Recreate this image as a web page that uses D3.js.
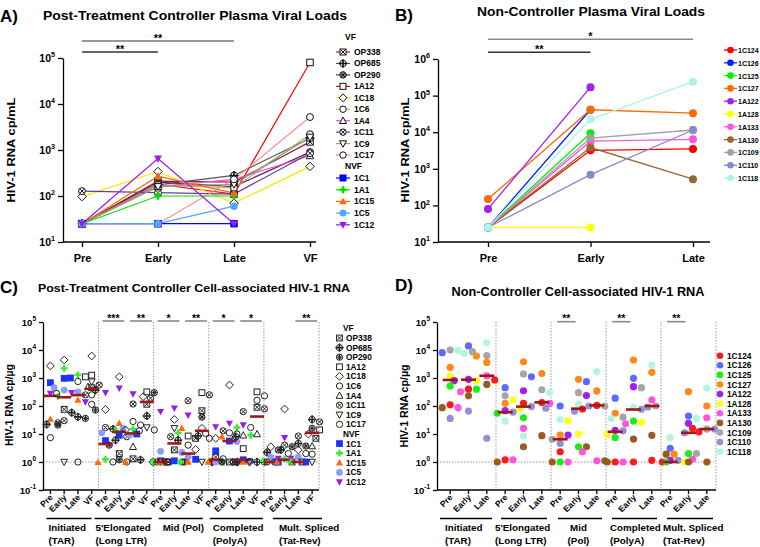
<!DOCTYPE html>
<html><head><meta charset="utf-8">
<script src="https://cdn.jsdelivr.net/npm/d3@7"></script>
<style>body{margin:0;background:#fff}svg{display:block}text{font-family:"Liberation Sans",Arial,sans-serif;font-weight:bold;fill:#000}</style>
</head><body><svg id="c" width="760" height="547"></svg>
<script>
// ================= DATA =================
const n = null;
const timepoints = ["Pre","Early","Late","VF"];
const timepointsNC = ["Pre","Early","Late"];
const vfIds  = ["OP338","OP685","OP290","1A12","1C18","1C6","1A4","1C11","1C9","1C17"];
const nvfIds = ["1C1","1A1","1C15","1C5","1C12"];
const ptcIds = vfIds.concat(nvfIds);
// Panel A: plasma viral load (cp/mL) at Pre, Early, Late, VF
const plasmaA = [
  [25,210,200,1500],[25,175,280,1800],[25,200,160,900],[25,180,110,80000],[97,340,70,440],
  [25,175,150,2200],[25,160,230,750],[128,118,110,850],[25,160,180,1900],[25,25,230,5200],
  [25,25,25,n],[25,100,100,n],[25,270,115,n],[25,25,60,n],[25,650,25,n]
];
const sigA = [["Pre","Early","**"],["Pre","Late","**"]];
// Panel B
const ncIds = ["1C124","1C126","1C125","1C127","1A122","1A128","1A133","1A130","1C109","1C110","1C118"];
const plasmaB = [
  [25,3200,3500],[25,41000,n],[25,9400,n],[150,41000,33000],[80,170000,n],[25,25,n],
  [25,5700,6400],[25,3800,520],[25,6900,11500],[25,690,11500],[25,22500,240000]
];
const sigB = [["Pre","Early","**"],["Pre","Late","*"]];
// Panel C: cell-associated RNA (cp/ug); groups x timepoints
const regionKeys = ["TAR","LTR","Mid","Comp","MS"];
const regionLabelsC = [["Initiated","(TAR)"],["5'Elongated","(Long LTR)"],["Mid (Pol)"],["Completed","(PolyA)"],["Mult. Spliced","(Tat-Rev)"]];
const regionLabelsD = [["Initiated","(TAR)"],["5'Elongated","(Long LTR)"],["Mid","(Pol)"],["Completed","(PolyA)"],["Mult. Spliced","(Tat-Rev)"]];
const caPTC = [
  [n,76,n,450,  n,2,1.3,115,  1,2.7,7,68,  1.5,1,1,90,  n,1,1,7],
  [22,58,41,370, 15,6,1.2,44, 1,6,n,8.5, 1,1,8,1, 2.2,2.7,4.6,33],
  [21,n,36,72, 4,1.2,n,300, 1,n,1,40, 1,1,n,1, 1,3.5,3.7,16],
  [n,n,1100,1260, n,n,n,320, n,n,8.5,300, n,n,3,320, n,n,n,14],
  [2700,4400,n,6100, 75,1100,14,215, 1,33,2.8,16, 7,560,n,1, 3.5,78,2.7,10],
  [7.4,280,750,250, 1,1,28,14, 1,1,4,10.5, 1.3,11,17,230, 1,2,2,1.9],
  [n,n,n,490, n,n,3.5,n, n,n,n,n, n,n,9,10, n,n,n,3.7],
  [25,30,250,560, 17,8,118,190, 1,8,155,250, 13,1,63,80, 2.7,4,8.5,27],
  [n,1,n,740, n,n,n,17, n,16,n,1, n,n,n,1, n,n,n,1],
  [n,n,1,115, n,n,21,13, n,1,n,7, n,10,n,160, n,n,n,n],
  [680,970,1000,n, 5.8,9,10,n, 1.1,1.1,1.25,n, 2.5,5.6,1.2,n, 1,1,1,n],
  [220,2200,1300,n, 1.25,13,15,n, 1,11,1,n, 1,17,9,n, 1.1,1.3,1,n],
  [34,n,165,n, 0.98,24,1,n, 1,16,1,n, 1,8,1,n, n,1,n,n],
  [450,370,320,n, 11,16,9,n, 2.4,2.2,1.5,n, 1,5.4,1.1,n, 1.5,n,1.5,n],
  [280,300,140,n, 300,430,270,n, 63,83,47,n, 18,24,21,n, 1.35,7.4,1.35,n]
];
const caPTCMedians = [230,205,245,410, 4.4,12,10.5,140, 1,4.6,2,13, 1.2,5.6,1.2,42, 1,1.2,1,11];
const sigC = [["LTR","Pre","Early","***"],["LTR","Late","VF","**"],["Mid","Pre","Early","*"],["Mid","Late","VF","**"],
              ["Comp","Pre","Early","*"],["Comp","Late","VF","*"],["MS","Late","VF","**"]];
// Panel D
const caNC = [
  [110,400,850, 1.2,125,133, 2.3,78,105, 1,1,1.15, 1,16,12],
  [8000,14000,n, 450,1100,n, 100,740,n, 190,970,n, 3.1,44,n],
  [520,400,n, 55,38,n, 1,3.5,n, 7.4,29,n, 1,2,n],
  [2400,6100,3600, 125,3800,1450, 9.2,900,345, 55,4400,1600, 1.9,325,100],
  [800,900,n, 68,350,n, 9.2,235,n, 13.5,490,n, 1.15,24,n],
  [1200,800,n, 165,78,n, 30,10,n, 9.7,26,n, n,1,n],
  [87,320,1200, 1.2,16,125, 1,2.3,1.1, 1,23,165, n,1.25,38],
  [87,230,590, 1,3.5,8.7, 1,3.5,1.1, 1,6.6,9, 1.9,1,1],
  [10000,8700,6300, 230,1400,380, 6.5,300,100, 40,450,100, n,2,15],
  [36,66,7, 60,95,83, 4.6,66,100, 13,76,92, 1.15,11,15],
  [9500,7600,18000, 29,8.5,310, 33,118,1700, 36,90,2900, 7.4,36,430]
];
const caNCMedians = [850,870,1200, 60,95,135, 6.5,80,105, 12,75,100, 1,11,15];
const sigD = [["Mid","Pre","Early","**"],["Comp","Pre","Early","**"],["MS","Pre","Early","**"]];

// ================= STYLE =================
const lineColA = {"OP338":"#8e2040","OP685":"#555","OP290":"#5a2a5a","1A12":"#ff0000","1C18":"#f5e800","1C6":"#c8a878",
  "1A4":"#ff44dd","1C11":"#6a3d9a","1C9":"#7baa6b","1C17":"#ff8c8c","1C1":"#0000ff","1A1":"#00e000","1C15":"#ff6a00","1C5":"#55a5ff","1C12":"#9a1af0"};
const fillC = {"1C1":"#1a33ff","1A1":"#33ee33","1C15":"#ff6a00","1C5":"#8c9cff","1C12":"#9a1af0"};
const shape = {"OP338":"sqX","OP685":"circPlus","OP290":"circStar","1A12":"square","1C18":"diamond","1C6":"circle","1A4":"triUp",
  "1C11":"circX","1C9":"triDown","1C17":"circle","1C1":"squareF","1A1":"crossF","1C15":"triUpF","1C5":"circleF","1C12":"triDownF"};
const colB = {"1C124":"#ff0000","1C126":"#0022ff","1C125":"#00ee00","1C127":"#ff6a00","1A122":"#a020f0","1A128":"#ffff00",
  "1A133":"#ff55dd","1A130":"#996633","1C109":"#a0a0a0","1C110":"#8888cc","1C118":"#aaf5e6"};
const colD = {"1C124":"#ff1a1a","1C126":"#5a6cff","1C125":"#1aee1a","1C127":"#ff8a1a","1A122":"#a020f0","1A128":"#ffff1a",
  "1A133":"#ff55dd","1A130":"#9c5a1e","1C109":"#a6a6a6","1C110":"#9090d8","1C118":"#b3f5e2"};
const medCol = "#a01818";

const svg = d3.select("#c");

function marker(g, type, x, y, s, stroke, fill) {
  const h = s/2;
  const G = g.append("g").attr("transform", `translate(${x},${y})`);
  const sw = 1;
  const hollowFill = fill || "none";
  if (type.endsWith("F")) {
    const col = stroke;
    if (type==="squareF") G.append("rect").attr("x",-h).attr("y",-h).attr("width",s).attr("height",s).attr("fill",col);
    if (type==="circleF") G.append("circle").attr("r",h).attr("fill",col);
    if (type==="triUpF") G.append("path").attr("d",`M0,${-h*1.1}L${h*1.05},${h*0.8}L${-h*1.05},${h*0.8}Z`).attr("fill",col);
    if (type==="triDownF") G.append("path").attr("d",`M0,${h*1.1}L${h*1.05},${-h*0.8}L${-h*1.05},${-h*0.8}Z`).attr("fill",col);
    if (type==="crossF") { const a=h*0.35;
      G.append("path").attr("d",`M${-a},${-h}L${a},${-h}L${a},${-a}L${h},${-a}L${h},${a}L${a},${a}L${a},${h}L${-a},${h}L${-a},${a}L${-h},${a}L${-h},${-a}L${-a},${-a}Z`).attr("fill",col); }
    return;
  }
  const st = (sel)=>sel.attr("stroke",stroke).attr("stroke-width",sw).attr("fill",hollowFill);
  const r = h*0.92;
  if (type==="square"||type==="sqX") st(G.append("rect").attr("x",-h+0.5).attr("y",-h+0.5).attr("width",s-1).attr("height",s-1));
  if (type==="sqX") G.append("path").attr("d",`M${-h+1},${-h+1}L${h-1},${h-1}M${h-1},${-h+1}L${-h+1},${h-1}`).attr("stroke",stroke).attr("stroke-width",sw);
  if (type==="diamond") st(G.append("path").attr("d",`M0,${-h-0.5}L${h+0.5},0L0,${h+0.5}L${-h-0.5},0Z`));
  if (type==="circle"||type==="circPlus"||type==="circX"||type==="circStar") st(G.append("circle").attr("r",r));
  if (type==="circPlus") G.append("path").attr("d",`M${-r-1},0L${r+1},0M0,${-r-1}L0,${r+1}`).attr("stroke",stroke).attr("stroke-width",1.6);
  if (type==="circX") { const k=r*0.7; G.append("path").attr("d",`M${-k},${-k}L${k},${k}M${k},${-k}L${-k},${k}`).attr("stroke",stroke).attr("stroke-width",sw); }
  if (type==="circStar") { const k=r*0.7; G.append("path").attr("d",`M${-k},${-k}L${k},${k}M${k},${-k}L${-k},${k}M${-r},0L${r},0M0,${-r}L0,${r}`).attr("stroke",stroke).attr("stroke-width",sw); }
  if (type==="triUp") st(G.append("path").attr("d",`M0,${-h*1.05}L${h},${h*0.8}L${-h},${h*0.8}Z`));
  if (type==="triDown") st(G.append("path").attr("d",`M0,${h*1.05}L${h},${-h*0.8}L${-h},${-h*0.8}Z`));
}

function supLabels(axisG, fs) {
  axisG.selectAll(".tick text").each(function(d){
    const e = Math.round(Math.log10(d));
    const t = d3.select(this); t.text(null).attr("font-size",fs).attr("font-weight","bold");
    t.append("tspan").text("10");
    t.append("tspan").attr("dy",-fs*0.45).attr("font-size",fs*0.68).text(e);
  });
}
function styleAxis(g, w) {
  g.attr("font-family",null);
  g.selectAll("path,line").attr("stroke","#000").attr("stroke-width",w);
}
function sigBar(g, x1, x2, y, label, fs, col) {
  g.append("line").attr("x1",x1).attr("x2",x2).attr("y1",y).attr("y2",y).attr("stroke",col).attr("stroke-width",1.6);
  g.append("text").attr("x",(x1+x2)/2).attr("y",y+0.5).attr("text-anchor","middle").attr("font-size",fs).text(label);
}
function title(x, y, txt, fs, len) {
  svg.append("text").attr("x",x).attr("y",y).attr("text-anchor","middle").attr("font-size",fs)
    .attr("textLength",len).attr("lengthAdjust","spacingAndGlyphs").text(txt);
}
function yTitle(x, y, txt, fs, len) {
  svg.append("text").attr("transform",`translate(${x},${y}) rotate(-90)`).attr("text-anchor","middle").attr("font-size",fs)
    .attr("textLength",len).attr("lengthAdjust","spacingAndGlyphs").text(txt);
}

// ================= PANEL A =================
(function(){
  const g = svg.append("g");
  const x = d3.scalePoint().domain(timepoints).range([82,310]);
  const y = d3.scaleLog().domain([10,1e5]).range([242,58]);
  svg.append("text").attr("x",0).attr("y",22).attr("font-size",17).text("A)");
  title(195,20,"Post-Treatment Controller Plasma Viral Loads",13,304);
  yTitle(15,150,"HIV-1 RNA cp/mL",11.5,105);
  const ya = g.append("g").attr("transform","translate(63,0)")
    .call(d3.axisLeft(y).tickValues([10,100,1e3,1e4,1e5]).tickSize(5).tickSizeOuter(0));
  styleAxis(ya,1.3); supLabels(ya,10.5);
  const xa = g.append("g").attr("transform","translate(0,242)").call(d3.axisBottom(x).tickSize(5).tickSizeOuter(0));
  styleAxis(xa,1.3); xa.select(".domain").remove();
  xa.selectAll(".tick text").attr("font-size",11).attr("font-weight","bold").attr("dy","1.05em");
  g.append("line").attr("x1",63).attr("x2",316).attr("y1",242).attr("y2",242).attr("stroke","#000").attr("stroke-width",1.3);
  sigA.forEach((s,i)=> sigBar(g, x(s[0]), x(s[1]), i===0?52:41, s[2], 11, i===0?"#333":"#777"));
  const line = d3.line().defined(d=>d[1]!=null).x(d=>x(d[0])).y(d=>y(d[1]));
  ptcIds.forEach((id,i)=>{
    const pts = timepoints.map((t,j)=>[t,plasmaA[i][j]]);
    g.append("path").attr("d",line(pts)).attr("fill","none").attr("stroke",lineColA[id]).attr("stroke-width",1.2);
  });
  ptcIds.forEach((id,i)=>{
    timepoints.forEach((t,j)=>{
      const v = plasmaA[i][j]; if (v==null) return;
      const filled = shape[id].endsWith("F");
      marker(g, shape[id], x(t), y(v), 7.5, filled?lineColA[id]:"#111", "#fff");
    });
  });
  const lg = svg.append("g");
  lg.append("text").attr("x",345).attr("y",40).attr("font-size",8.5).text("VF");
  lg.append("text").attr("x",345).attr("y",169).attr("font-size",8.5).text("NVF");
  ptcIds.forEach((id,i)=>{
    const yy = i<10 ? 52+i*11.45 : 178+(i-10)*11.7;
    lg.append("line").attr("x1",336).attr("x2",350).attr("y1",yy).attr("y2",yy).attr("stroke",lineColA[id]).attr("stroke-width",1.2);
    const filled = shape[id].endsWith("F");
    marker(lg, shape[id], 343, yy, 7, filled?lineColA[id]:"#111", "#fff");
    lg.append("text").attr("x",354).attr("y",yy+3).attr("font-size",8.5).text(id);
  });
})();

// ================= PANEL B =================
(function(){
  const g = svg.append("g");
  const x = d3.scalePoint().domain(timepointsNC).range([488,693]);
  const y = d3.scaleLog().domain([10,1e6]).range([242,59]);
  svg.append("text").attr("x",395).attr("y",21).attr("font-size",17).text("B)");
  title(591,16,"Non-Controller Plasma Viral Loads",13,228);
  yTitle(409,150,"HIV-1 RNA cp/mL",11.5,105);
  const ya = g.append("g").attr("transform","translate(438,0)")
    .call(d3.axisLeft(y).tickValues([10,100,1e3,1e4,1e5,1e6]).tickSize(5).tickSizeOuter(0));
  styleAxis(ya,1.3); supLabels(ya,10.5);
  const xa = g.append("g").attr("transform","translate(0,242)").call(d3.axisBottom(x).tickSize(5).tickSizeOuter(0));
  styleAxis(xa,1.3); xa.select(".domain").remove();
  xa.selectAll(".tick text").attr("font-size",11).attr("font-weight","bold").attr("dy","1.05em");
  g.append("line").attr("x1",438).attr("x2",710).attr("y1",242).attr("y2",242).attr("stroke","#000").attr("stroke-width",1.3);
  sigB.forEach((s,i)=> sigBar(g, x(s[0]), x(s[1]), i===0?52.3:39.3, s[2], 11, i===0?"#333":"#888"));
  const line = d3.line().defined(d=>d[1]!=null).x(d=>x(d[0])).y(d=>y(d[1]));
  ncIds.forEach((id,i)=>{
    const pts = timepointsNC.map((t,j)=>[t,plasmaB[i][j]]);
    g.append("path").attr("d",line(pts)).attr("fill","none").attr("stroke",colB[id]).attr("stroke-width",1.3);
  });
  ncIds.forEach((id,i)=>{
    timepointsNC.forEach((t,j)=>{
      const v = plasmaB[i][j]; if (v==null) return;
      g.append("circle").attr("cx",x(t)).attr("cy",y(v)).attr("r",4).attr("fill",colB[id]);
    });
  });
  const lg = svg.append("g");
  ncIds.forEach((id,i)=>{
    const yy = 50+i*12.8;
    lg.append("line").attr("x1",724).attr("x2",737).attr("y1",yy).attr("y2",yy).attr("stroke",colB[id]).attr("stroke-width",1.3);
    lg.append("circle").attr("cx",730.5).attr("cy",yy).attr("r",3.3).attr("fill",colB[id]);
    lg.append("text").attr("x",738).attr("y",yy+3).attr("font-size",7).text(id);
  });
})();

// ============ helpers for C / D =============
function dodge(points, r, maxK) {
  const placed = [];
  points.sort((a,b)=>a.y-b.y);
  points.forEach((p,idx)=>{
    let done=false;
    for (let k=0;k<=maxK;k++){
      const off = k===0?0:(k%2?1:-1)*Math.ceil(k/2)*r*1.1;
      const xx = p.x0+off;
      if (!placed.some(q=>(q.x-xx)**2+(q.y-p.y)**2 < (r*1.7)**2)) { p.x=xx; done=true; break; }
    }
    if (!done) { const k=(idx%(maxK+1)); p.x = p.x0 + (k===0?0:(k%2?1:-1)*Math.ceil(k/2)*r*1.1); }
    placed.push(p);
  });
}
function cellPanel(opts) {
  const {x0, x1, axisX, y, cats, tps, regionLabels, labelOffsets, underlines} = opts;
  const g = svg.append("g");
  const x = d3.scaleBand().domain(cats).range([x0,x1]);
  const bw = x.bandwidth();
  const cx = c => x(c)+bw/2;
  regionKeys.forEach((r,i)=>{
    const xd = x(r+"|"+tps[tps.length-1])+bw;
    g.append("line").attr("x1",xd).attr("x2",xd).attr("y1",322).attr("y2",490).attr("stroke","#9a9a9a").attr("stroke-width",1).attr("stroke-dasharray","1.5,1.5");
  });
  g.append("line").attr("x1",axisX).attr("x2",x1).attr("y1",y(1)).attr("y2",y(1)).attr("stroke","#9a9a9a").attr("stroke-width",1).attr("stroke-dasharray","1.5,1.5");
  const ya = g.append("g").attr("transform",`translate(${axisX},0)`)
    .call(d3.axisLeft(y).tickValues([0.1,1,10,100,1e3,1e4,1e5]).tickSize(4).tickSizeOuter(0));
  styleAxis(ya,1.3); supLabels(ya,9.5);
  const xa = g.append("g").attr("transform","translate(0,490)").call(d3.axisBottom(x).tickSize(4).tickSizeOuter(0));
  styleAxis(xa,1.3); xa.select(".domain").remove();
  xa.selectAll(".tick").attr("transform", d=>`translate(${cx(d)},0)`);
  xa.selectAll(".tick text").text(d=>d.split("|")[1]).attr("font-size",8.5).attr("font-weight","bold")
    .attr("text-anchor","end").attr("dy",0).attr("y",0).attr("transform","translate(3,8) rotate(-45)");
  g.append("line").attr("x1",axisX).attr("x2",x1).attr("y1",490).attr("y2",490).attr("stroke","#000").attr("stroke-width",1.3);
  regionKeys.forEach((r,i)=>{
    const gs = x(r+"|"+tps[0]), ge = x(r+"|"+tps[tps.length-1])+bw;
    g.append("line").attr("x1",gs+underlines[i][0]).attr("x2",ge+underlines[i][1]).attr("y1",518.5).attr("y2",518.5).attr("stroke","#000").attr("stroke-width",1.3);
    const lo = labelOffsets[i];
    regionLabels[i].forEach((s,k)=>{
      const t = g.append("text").attr("y",531+k*13).attr("font-size",9.8).text(s);
      if (lo==null) t.attr("x",(gs+ge)/2).attr("text-anchor","middle"); else t.attr("x",gs+lo);
    });
  });
  return {g,x,cx,bw};
}

// ================= PANEL C =================
(function(){
  const catsC = regionKeys.flatMap(r=>timepoints.map(t=>r+"|"+t));
  const y = d3.scaleLog().domain([0.1,1e5]).range([490,322]);
  svg.append("text").attr("x",0).attr("y",293).attr("font-size",17).text("C)");
  title(194,292,"Post-Treatment Controller Cell-associated HIV-1 RNA",11.5,312);
  yTitle(13,405,"HIV-1 RNA cp/\u00b5g",10.5,82);
  const {g,x,cx,bw} = cellPanel({x0:43.5,x1:319,axisX:43,y,cats:catsC,tps:timepoints,regionLabels:regionLabelsC,
    labelOffsets:[5,-3,9,4,15],underlines:[[3,-7],[-4,-2],[5,-6],[1,-1],[9,3]]});
  sigC.forEach(s=> sigBar(g, cx(s[0]+"|"+s[1])-3, cx(s[0]+"|"+s[2])+5, 321, s[3], 10.5, "#888"));
  catsC.forEach((c,j)=>{
    const pts = [];
    ptcIds.forEach((id,i)=>{ const v = caPTC[i][j]; if (v!=null) pts.push({id, y:y(v), x0:cx(c)}); });
    dodge(pts, 3.4, 4);
    pts.forEach(p=>{
      const filled = shape[p.id].endsWith("F");
      marker(g, shape[p.id], p.x, p.y, 6.8, filled?fillC[p.id]:"#222", "none");
    });
    g.append("line").attr("x1",cx(c)-7).attr("x2",cx(c)+7).attr("y1",y(caPTCMedians[j])).attr("y2",y(caPTCMedians[j]))
      .attr("stroke",medCol).attr("stroke-width",2.6);
  });
  const lg = svg.append("g");
  lg.append("text").attr("x",343).attr("y",331).attr("font-size",8.3).text("VF");
  lg.append("text").attr("x",343).attr("y",338+10*9.6+3).attr("font-size",8.3).text("NVF");
  ptcIds.forEach((id,i)=>{
    const yy = i<10 ? 338+i*9.6 : 338+(i+1)*9.6;
    const filled = shape[id].endsWith("F");
    marker(lg, shape[id], 339.5, yy, 6.8, filled?fillC[id]:"#222", "none");
    lg.append("text").attr("x",346).attr("y",yy+3).attr("font-size",8.3).text(id);
  });
})();

// ================= PANEL D =================
(function(){
  const catsD = regionKeys.flatMap(r=>timepointsNC.map(t=>r+"|"+t));
  const y = d3.scaleLog().domain([0.1,1e5]).range([490,322]);
  svg.append("text").attr("x",395).attr("y",291).attr("font-size",17).text("D)");
  title(578,296,"Non-Controller Cell-associated HIV-1 RNA",12,253);
  yTitle(408,406,"HIV-1 RNA cp/\u00b5g",10.5,83);
  const {g,x,cx,bw} = cellPanel({x0:441,x1:716,axisX:437,y,cats:catsD,tps:timepointsNC,regionLabels:regionLabelsD,
    labelOffsets:[4,-1,null,4,2],underlines:[[-1,-4],[5,-4],[7,-4],[6,-4],[6,-3]]});
  sigD.forEach(s=> sigBar(g, cx(s[0]+"|"+s[1])-3, cx(s[0]+"|"+s[2])-3, 321.7, s[3], 10.5, "#888"));
  catsD.forEach((c,j)=>{
    const pts = [];
    ncIds.forEach((id,i)=>{ const v = caNC[i][j]; if (v!=null) pts.push({id, y:y(v), x0:cx(c)}); });
    dodge(pts, 3.6, 4);
    pts.forEach(p=> g.append("circle").attr("cx",p.x).attr("cy",p.y).attr("r",3.6).attr("fill",colD[p.id]));
    g.append("line").attr("x1",cx(c)-7.5).attr("x2",cx(c)+7.5).attr("y1",y(caNCMedians[j])).attr("y2",y(caNCMedians[j]))
      .attr("stroke",medCol).attr("stroke-width",2.6);
  });
  const lg = svg.append("g");
  ncIds.forEach((id,i)=>{
    const yy = 355.7+i*9.6;
    lg.append("circle").attr("cx",720).attr("cy",yy).attr("r",3.3).attr("fill",colD[id]);
    lg.append("text").attr("x",727).attr("y",yy+3).attr("font-size",8.3).text(id);
  });
})();
</script></body></html>
